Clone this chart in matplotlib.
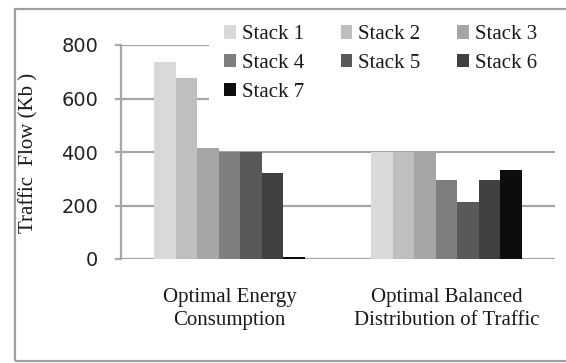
import matplotlib
matplotlib.use("Agg")
import matplotlib.pyplot as plt
from matplotlib.patches import Rectangle, Patch
import numpy as np

categories = ["Optimal Energy\nConsumption", "Optimal Balanced\nDistribution of Traffic"]
series_names = ["Stack 1", "Stack 2", "Stack 3", "Stack 4", "Stack 5", "Stack 6", "Stack 7"]
stack1 = [737, 400]
stack2 = [675, 400]
stack3 = [416, 400]
stack4 = [400, 296]
stack5 = [400, 214]
stack6 = [320, 296]
stack7 = [9, 333]
yticks = [0, 200, 400, 600, 800]

series = [stack1, stack2, stack3, stack4, stack5, stack6, stack7]
colors = ["#d9d9d9", "#bfbfbf", "#a6a6a6", "#7f7f7f", "#595959", "#404040", "#0d0d0d"]

W, H = 566, 363
fig = plt.figure(figsize=(W / 100, H / 100), dpi=100)

def fx(x):
    return x / W

def fy(y):
    return 1 - y / H

grid_c = "#a6a6a6"
ax = fig.add_axes([fx(121), fy(259), fx(555) - fx(121), fy(45) - fy(259)])
ax.set_ylim(0, 800)
ax.set_xlim(-0.5, 1.5)

x = np.arange(len(categories))
bw = 0.0995
n = len(series)
handles = []
for i, (vals, c, name) in enumerate(zip(series, colors, series_names)):
    ax.bar(x + (i - (n - 1) / 2) * bw, vals, width=bw, color=c, edgecolor="none", zorder=3)
    handles.append(Patch(facecolor=c, edgecolor="none", label=name))

ax.set_axisbelow(True)
ax.set_yticks(yticks)
ax.yaxis.grid(True, color=grid_c, linewidth=1.6)
for s in ["top", "right", "bottom"]:
    ax.spines[s].set_visible(False)
ax.spines["left"].set_color(grid_c)
ax.spines["left"].set_linewidth(1.6)
ax.tick_params(axis="y", length=4.5, width=1.6, color=grid_c, pad=12,
               labelsize=14, labelcolor="#222222")
for t in ax.get_yticklabels():
    t.set_fontfamily("DejaVu Sans")

ax.set_xticks(x)
ax.set_xticklabels(categories, fontfamily="Liberation Serif", fontsize=15,
                   color="#1a1a1a", linespacing=1.25)
ax.tick_params(axis="x", length=0, pad=21)

fig.text(fx(29), fy(152.5), "Traffic  Flow (Kb )", rotation=90, ha="center", va="center",
         fontfamily="Liberation Serif", fontsize=15, color="#1a1a1a")

# white legend area background (covers gridlines like the original legend box)
ax.add_patch(Rectangle((fx(209), fy(106)), fx(557) - fx(209), fy(12) - fy(106),
                       transform=fig.transFigure, facecolor="white", edgecolor="none",
                       zorder=2, clip_on=False))

order = [0, 3, 6, 1, 4, 2, 5]
leg = ax.legend([handles[k] for k in order], [series_names[k] for k in order],
                ncol=3, loc="upper left", bbox_to_anchor=(fx(218), fy(19)),
                bbox_transform=fig.transFigure,
                prop={"family": "Liberation Serif", "size": 15},
                frameon=False, handlelength=0.55, handleheight=0.6, handletextpad=0.3,
                columnspacing=1.75, labelspacing=0.47, borderpad=0.3, borderaxespad=0)
leg.set_zorder(5)
for t in leg.get_texts():
    t.set_color("#1a1a1a")

fig.add_artist(Rectangle((fx(15), fy(361)), fx(600) - fx(15), fy(9) - fy(361),
                         transform=fig.transFigure, fill=False, edgecolor="#a0a0a0",
                         linewidth=1.6))

fig.savefig("out.png", dpi=100)
